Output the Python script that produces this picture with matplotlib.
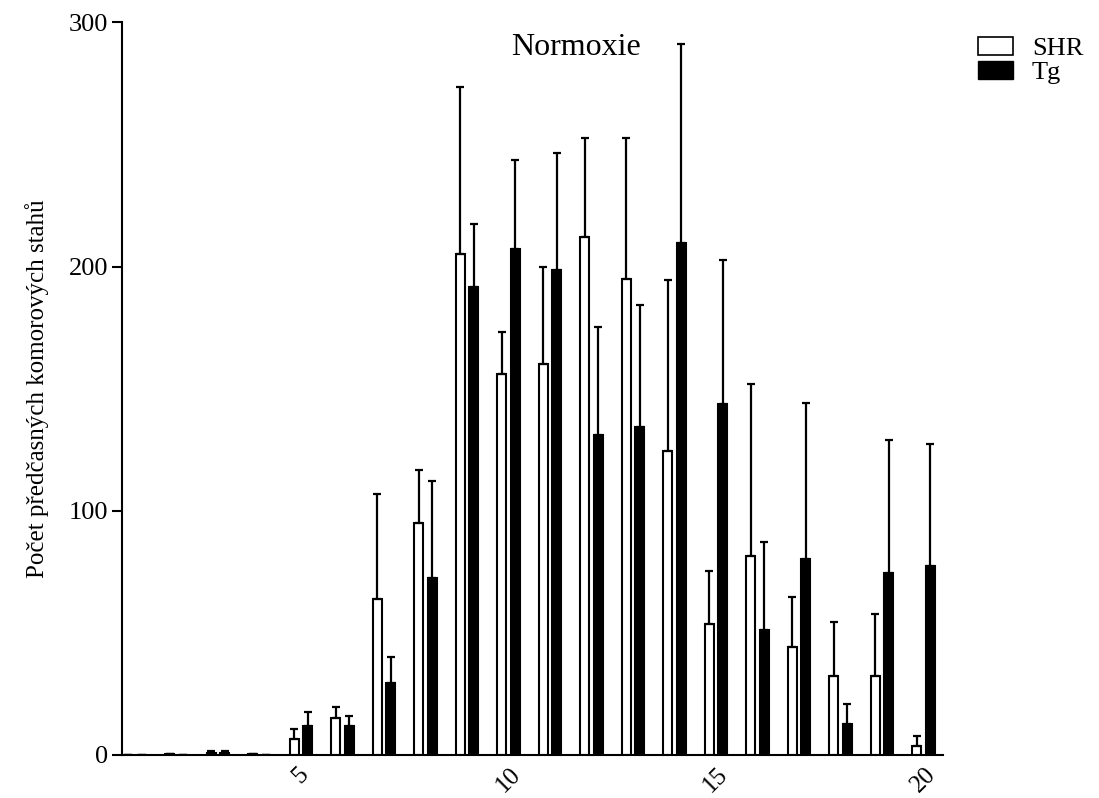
import numpy as np
import matplotlib.pyplot as plt
from matplotlib.patches import Patch

plt.rcParams['font.family'] = ['Liberation Serif', 'DejaVu Serif']

interval = np.arange(1, 21)
shr = [0, 0.4, 0.8, 0.3, 6.4, 15, 64, 95, 205, 156,
       160, 212, 195, 124.5, 53.5, 81.5, 44, 32.5, 32.5, 3.8]
shr_err = [0, 0, 0.7, 0, 4.2, 4.8, 43, 21.8, 68.6, 17,
           39.8, 40.6, 57.6, 70.1, 22, 70.5, 20.5, 22.1, 25.2, 3.8]
tg = [0, 0, 0.8, 0, 12, 12, 29.5, 72.5, 191.7, 207,
      198.7, 131, 134.4, 209.7, 143.7, 51.3, 80.2, 12.8, 74.6, 77.5]
tg_err = [0, 0, 0.7, 0, 5.5, 4.1, 10.6, 39.5, 25.7, 36.7,
          47.7, 44.3, 49.8, 81.3, 58.8, 35.7, 64, 8.2, 54.5, 49.9]

fig = plt.figure(figsize=(10.99, 7.98), dpi=100)
ax = fig.add_axes([0.111, 0.054, 0.747, 0.918])

w = 0.22
off = 0.165
ax.bar(interval - off, shr, w, color='white', edgecolor='black', linewidth=1.5,
       yerr=[np.zeros(20), shr_err], capsize=3,
       error_kw=dict(elinewidth=1.6, capthick=1.6, ecolor='black'), zorder=2)
ax.bar(interval + off, tg, w, color='black', edgecolor='black', linewidth=1.5,
       yerr=[np.zeros(20), tg_err], capsize=3,
       error_kw=dict(elinewidth=1.6, capthick=1.6, ecolor='black'), zorder=2)

ax.set_xlim(0.687, 20.47)
ax.set_ylim(0, 300)
ax.set_yticks([0, 100, 200, 300])
ax.set_xticks([5, 10, 15, 20])
ax.set_xticklabels(['5', '10', '15', '20'], rotation=45, ha='center')
ax.tick_params(axis='x', length=0, labelsize=18, pad=6)
ax.tick_params(axis='y', length=7, width=1.5, labelsize=19, direction='out', pad=3)

for s in ['top', 'right']:
    ax.spines[s].set_visible(False)
for s in ['left', 'bottom']:
    ax.spines[s].set_linewidth(1.5)

ax.set_ylabel('Počet předčasných komorových stahů', fontsize=18, labelpad=14)
ax.text(0.553, 0.985, 'Normoxie', transform=ax.transAxes, ha='center', va='top', fontsize=23)

handles = [Patch(facecolor='white', edgecolor='black', linewidth=1.2, label='SHR'),
           Patch(facecolor='black', edgecolor='black', label='Tg')]
fig.legend(handles=handles, loc='upper left', bbox_to_anchor=(0.880, 0.967),
           frameon=False, fontsize=19, handlelength=1.35, handleheight=0.65,
           labelspacing=0.05, handletextpad=0.7, borderaxespad=0)

plt.savefig('out.png', dpi=100)
